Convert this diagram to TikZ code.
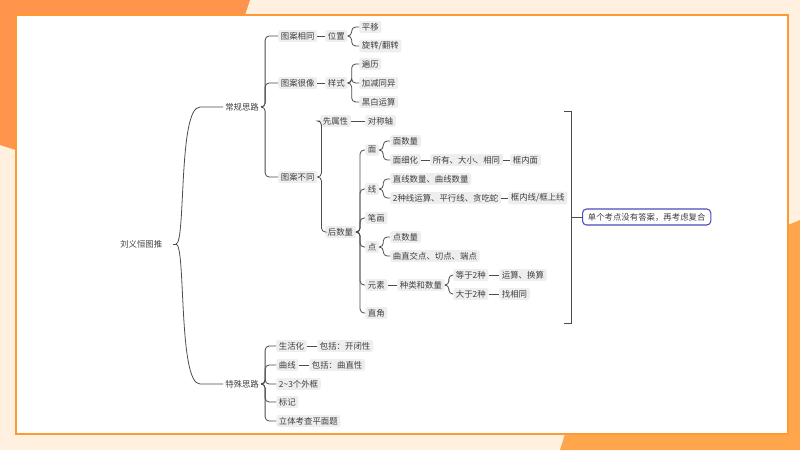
\documentclass[tikz,border=0pt]{standalone}
\usepackage{fontspec}
\setmainfont{Noto Sans CJK SC}
\begin{document}
\begin{tikzpicture}[x=0.75pt,y=-0.75pt,
  n/.style={anchor=west,fill=gray!13,rounded corners=1.5pt,inner xsep=2pt,inner ysep=1.5pt,font=\fontsize{6.3}{7}\selectfont,text=black!75},
  r/.style={anchor=west,inner sep=1.5pt,font=\fontsize{6.3}{7}\selectfont,text=black!75},
  c/.style={draw=black!70,line width=0.6pt,rounded corners=3pt},
  s/.style={draw=black!70,line width=0.6pt}]
\useasboundingbox (0,0) rectangle (800,450);
\fill[orange!12] (0,0) rectangle (800,450);
\fill[orange!80!red!70] (0,0) -- (250,0) -- (245,15) -- (16,15) -- (16,150) -- (0,145) -- cycle;
\fill[orange!70] (560,450) -- (565,434) -- (788,434) -- (788,225) -- (800,220) -- (800,450) -- cycle;
\fill[orange!60] (150,434) arc (180:360:25 and 10) -- cycle;
\draw[orange!80,line width=1.2pt,fill=white] (16,15) rectangle (788,434);
% nodes
\node[r] (root) at (118,244) {刘义恒图推};
\coordinate (rj) at (176,244);
\node[r] (cg) at (223,107) {常规思路};
\node[r] (ts) at (223,384) {特殊思路};
\node[n] (a1) at (278,36) {图案相同};
\node[n] (a1a) at (325,36) {位置};
\node[n] (a1a1) at (359,27) {平移};
\node[n] (a1a2) at (359,46) {旋转/翻转};
\node[n] (a2) at (278,83) {图案很像};
\node[n] (a2a) at (325,83) {样式};
\node[n] (a2a1) at (359,64) {遍历};
\node[n] (a2a2) at (359,83) {加减同异};
\node[n] (a2a3) at (359,102) {黑白运算};
\node[n] (a3) at (278,177) {图案不同};
\node[n] (b1) at (320,121) {先属性};
\node[n] (b1a) at (365,121) {对称轴};
\node[n] (b2) at (325,232) {后数量};
\node[n] (m) at (365,150) {面};
\node[n] (m1) at (390,141) {面数量};
\node[n] (m2) at (390,160) {面细化};
\node[n] (m2a) at (430,160) {所有、大小、相同};
\node[n] (m2b) at (510,160) {框内面};
\node[n] (x) at (365,189) {线};
\node[n] (x1) at (390,179) {直线数量、曲线数量};
\node[n] (x2) at (390,198) {2种线运算、平行线、贪吃蛇};
\node[n] (x2a) at (508,198) {框内线/框上线};
\node[n] (bh) at (365,218) {笔画};
\node[n] (d) at (365,247) {点};
\node[n] (d1) at (390,237) {点数量};
\node[n] (d2) at (390,256) {曲直交点、切点、端点};
\node[n] (y) at (365,285) {元素};
\node[n] (y1) at (397,285) {种类和数量};
\node[n] (y1a) at (453,275) {等于2种};
\node[n] (y1a1) at (499,275) {运算、换算};
\node[n] (y1b) at (453,294) {大于2种};
\node[n] (y1b1) at (499,294) {找相同};
\node[n] (zj) at (365,313) {直角};
\node[n,draw=blue!60!black!70,line width=0.8pt,fill=white,rounded corners=3pt,inner xsep=4pt,inner ysep=3pt] (box) at (582,217) {单个考点没有答案，再考虑复合};
\node[n] (t1) at (276,346) {生活化};
\node[n] (t1a) at (317,346) {包括：开闭性};
\node[n] (t2) at (276,365) {曲线};
\node[n] (t2a) at (309,365) {包括：曲直性};
\node[n] (t3) at (276,384) {2\textasciitilde3个外框};
\node[n] (t4) at (276,402) {标记};
\node[n] (t5) at (276,421) {立体考查平面题};
% connectors
\draw[s] (root.east) ++(8,0) -- (rj);
\draw[s] (rj) .. controls (186,244) and (178,107) .. (200,107) -- (cg.west);
\draw[s] (rj) .. controls (186,244) and (178,384) .. (200,384) -- (ts.west);
\foreach \p/\k in {cg/a1,cg/a2,cg/a3,a1a/a1a1,a1a/a1a2,a2a/a2a1,a2a/a2a2,a2a/a2a3,a3/b1,a3/b2,b2/m,b2/x,b2/bh,b2/d,b2/y,b2/zj,m/m1,m/m2,x/x1,x/x2,d/d1,d/d2,y1/y1a,y1/y1b,ts/t1,ts/t2,ts/t3,ts/t4,ts/t5}
  \draw[c] (\p.east) -- ++(4,0) |- (\k.west);
\foreach \p/\k in {a1/a1a,a2/a2a,b1/b1a,m2/m2a,m2a/m2b,x2/x2a,y/y1,y1a/y1a1,y1b/y1b1,t1/t1a,t2/t2a}
  \draw[s] (\p.east) -- (\k.west);
% bracket
\coordinate (bt) at (564,111);
\coordinate (bb) at (564,323);
\draw[s] (bt) -- (571,111) -- (571,323) -- (bb);
\draw[s] (571,217) -- (box.west);
\end{tikzpicture}
\end{document}
